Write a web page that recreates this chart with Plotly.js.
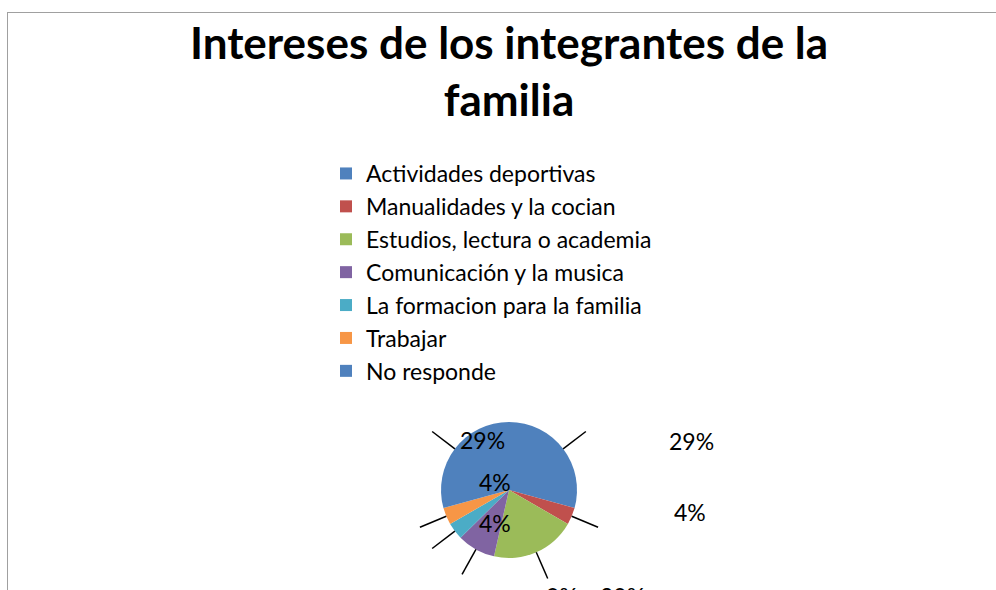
<!DOCTYPE html>
<html>
<head>
<meta charset="utf-8">
<script src="https://cdn.plot.ly/plotly-3.0.1.min.js"></script>
<style>html,body{margin:0;padding:0;background:#fff;}#chart{width:996px;height:590px;}</style>
</head>
<body>
<div id="chart"></div>
<script>
const categories = ["Actividades deportivas","Manualidades y la cocian","Estudios, lectura o academia","Comunicación y la musica","La formacion para la familia","Trabajar","No responde"];
const percents = [29, 4, 20, 9, 4, 4, 29];
const colors = ["#4F81BD","#C0504D","#9BBB59","#8064A2","#4BACC6","#F79646","#4F81BD"];
const titleText = "Intereses de los integrantes de la<br>familia";
// label anchor positions (pixels) as laid out in the original chart
const labelPos = [[691,441],[690,512],[622,596],[562,596],[495,523],[495,482],[482,440]];

const W = 996, H = 590;
const cx = 509, cy = 490, R = 68;
const px = x => x / W, py = y => 1 - y / H;

const total = percents.reduce((a,b)=>a+b,0);
let cum = 0;
const shapes = [
  {type:'line', xref:'paper', yref:'paper', x0:px(7), y0:py(12.5), x1:1.01, y1:py(12.5), line:{color:'#A0A0A0', width:1}},
  {type:'line', xref:'paper', yref:'paper', x0:px(7.5), y0:py(12), x1:px(7.5), y1:-0.01, line:{color:'#A0A0A0', width:1}}
];
const annotations = [];
percents.forEach((v,i)=>{
  const mid = (cum + v/2) / total * 2*Math.PI; cum += v;
  const sx = Math.sin(mid), sy = -Math.cos(mid);
  shapes.push({type:'line', xref:'paper', yref:'paper',
    x0:px(cx + sx*R*1.0), y0:py(cy + sy*R*1.0), x1:px(cx + sx*R*1.42), y1:py(cy + sy*R*1.42),
    line:{color:'#000', width:1.5}});
  annotations.push({xref:'paper', yref:'paper', x:px(labelPos[i][0]), y:py(labelPos[i][1]),
    xanchor:'center', yanchor:'middle', showarrow:false, text: v + '%',
    font:{family:'Lato, sans-serif', size:23, color:'#000'}});
});

const data = [{
  type:'pie', labels:categories, values:percents, sort:false, direction:'clockwise', rotation:0,
  marker:{colors:colors, line:{width:0}}, textinfo:'none', hoverinfo:'label+percent',
  domain:{x:[px(cx-R), px(cx+R)], y:[py(cy+R), py(cy-R)]}
}];

const layout = {
  width:W, height:H, margin:{l:0,r:0,t:0,b:0},
  paper_bgcolor:'#fff', plot_bgcolor:'#fff',
  title:{text:titleText, x:px(509), xanchor:'center', xref:'paper', y:1 - 59/H, yanchor:'top', yref:'container',
    font:{family:'Lato, sans-serif', size:44, color:'#000', weight:'bold'}},
  showlegend:true,
  legend:{x:px(326), y:py(152), xanchor:'left', yanchor:'top', traceorder:'normal',
    font:{family:'Lato, sans-serif', size:23, color:'#000'}, bgcolor:'rgba(0,0,0,0)', itemclick:false},
  shapes:shapes, annotations:annotations
};
Plotly.newPlot('chart', data, layout, {displayModeBar:false, staticPlot:true});
</script>
</body>
</html>
